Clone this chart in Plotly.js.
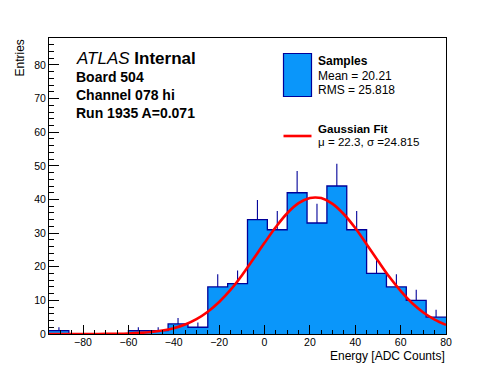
<!DOCTYPE html>
<html>
<head>
<meta charset="utf-8">
<script src="https://cdn.plot.ly/plotly-3.0.1.min.js"></script>
<style>html,body{margin:0;padding:0;background:#fff;}#chart{width:496px;height:372px;}</style>
</head>
<body>
<div id="chart"></div>
<script>
// Histogram: 20 bins from -95 to 80 (ADC counts)
const histLow = -95;
const histHigh = 80;
const counts = [1, 0, 0, 0, 1, 1, 3, 2, 14, 15, 34, 31, 42, 33, 44, 31, 18, 14, 10, 5];

// Gaussian fit curve
const fitX = [-95, -80, -70, -60, -55, -50, -45, -40, -35, -30, -25, -20, -15, -10, -5, 0, 5, 10, 15, 20, 22.3, 25, 30, 35, 40, 45, 50, 55, 60, 65, 70, 75, 80];
const fitY = [0, 0.01, 0.04, 0.17, 0.32, 0.58, 1.03, 1.74, 2.82, 4.4, 6.6, 9.5, 13.1, 17.4, 22.2, 27.1, 31.8, 35.9, 38.9, 40.4, 40.6, 40.4, 38.7, 35.6, 31.5, 26.7, 21.8, 17.0, 12.8, 9.2, 6.4, 4.3, 2.7];

// Text content
const atlasLabel = ["Board 504", "Channel 078 hi", "Run 1935 A=0.071"];
const legendSamples = ["Samples", "Mean = 20.21", "RMS = 25.818"];
const legendFit = ["Gaussian Fit", "\u03bc = 22.3, \u03c3 =24.815"];
const xTitle = "Energy [ADC Counts]";
const yTitle = "Entries";

const nBins = counts.length;
const binW = (histHigh - histLow) / nBins;
const edges = [];
for (let i = 0; i <= nBins; i++) edges.push(histLow + i * binW);
const centers = counts.map((c, i) => histLow + (i + 0.5) * binW);
const stepY = counts.concat([counts[nBins - 1]]);

const errX = [], errY = [], errUp = [], errDn = [];
counts.forEach((c, i) => {
  if (c > 0) { errX.push(centers[i]); errY.push(c); errUp.push(Math.sqrt(c)); errDn.push(0); }
});

const FILL = '#0a96fa';
const EDGE = '#000099';
const FONT = 'Liberation Sans, Arial, Helvetica, sans-serif';

const traces = [
  {
    type: 'scatter', mode: 'lines', x: edges, y: stepY,
    line: {shape: 'hv', color: EDGE, width: 1.3},
    fill: 'tozeroy', fillcolor: FILL, hoverinfo: 'skip', showlegend: false
  },
  {
    type: 'scatter', mode: 'markers', x: errX, y: errY,
    marker: {size: 1, color: 'rgba(0,0,0,0)'},
    error_y: {type: 'data', symmetric: false, array: errUp, arrayminus: errDn, width: 0, thickness: 1.1, color: EDGE},
    hoverinfo: 'skip', showlegend: false
  },
  {
    type: 'scatter', mode: 'lines', x: fitX, y: fitY,
    line: {shape: 'spline', color: '#ff0000', width: 2.6},
    hoverinfo: 'skip', showlegend: false
  }
];

// pixel helpers for decorations (plot area 49..446 x 38..334)
const L = 49, R = 446, T = 38, B = 334;
const px = v => (v - L) / (R - L);
const py = v => (B - v) / (B - T);

const annotations = [
  {text: '<i>ATLAS</i> <b>Internal</b>', x: px(75), y: py(58.5), xanchor: 'left', yanchor: 'middle', font: {size: 17}},
  {text: '<b>' + atlasLabel[0] + '</b>', x: px(75), y: py(77), xanchor: 'left', yanchor: 'middle', font: {size: 14}},
  {text: '<b>' + atlasLabel[1] + '</b>', x: px(75), y: py(95), xanchor: 'left', yanchor: 'middle', font: {size: 14}},
  {text: '<b>' + atlasLabel[2] + '</b>', x: px(75), y: py(113), xanchor: 'left', yanchor: 'middle', font: {size: 14}},
  {text: '<b>' + legendSamples[0] + '</b>', x: px(317), y: py(61), xanchor: 'left', yanchor: 'middle', font: {size: 12}},
  {text: legendSamples[1], x: px(317), y: py(76), xanchor: 'left', yanchor: 'middle', font: {size: 12}},
  {text: legendSamples[2], x: px(317), y: py(90), xanchor: 'left', yanchor: 'middle', font: {size: 12}},
  {text: '<b>' + legendFit[0] + '</b>', x: px(317), y: py(128.5), xanchor: 'left', yanchor: 'middle', font: {size: 11.6}},
  {text: legendFit[1], x: px(317), y: py(141.5), xanchor: 'left', yanchor: 'middle', font: {size: 11.6}},
  {text: xTitle, x: 1, y: py(356), xanchor: 'right', yanchor: 'middle', font: {size: 12}},
  {text: yTitle, x: px(19), y: 1, xanchor: 'center', yanchor: 'top', textangle: -90, font: {size: 12}}
].map(a => Object.assign({xref: 'paper', yref: 'paper', showarrow: false, borderpad: 0}, a));

const shapes = [
  {type: 'rect', xref: 'paper', yref: 'paper', x0: px(283.5), x1: px(311.5), y0: py(96.5), y1: py(53.5),
   fillcolor: FILL, line: {color: EDGE, width: 1.2}},
  {type: 'line', xref: 'paper', yref: 'paper', x0: px(283.5), x1: px(311.5), y0: py(136), y1: py(136),
   line: {color: '#ff0000', width: 2.6}}
];

const layout = {
  width: 496, height: 372,
  margin: {l: L, r: 496 - R, t: T, b: 372 - B, pad: 0},
  paper_bgcolor: '#ffffff', plot_bgcolor: '#ffffff',
  font: {family: FONT, color: '#000000', size: 12},
  showlegend: false,
  xaxis: {
    range: [histLow, histHigh], showgrid: false, zeroline: false,
    showline: true, linecolor: '#000', linewidth: 1, mirror: true,
    ticks: 'inside', ticklen: 9, tickcolor: '#000', tickwidth: 1,
    tick0: 0, dtick: 20, tickfont: {size: 10.5}, ticklabelstandoff: -2,
    minor: {ticks: 'inside', ticklen: 4.5, tickcolor: '#000', dtick: 5, tick0: 0, showgrid: false}
  },
  yaxis: {
    range: [0, 88], showgrid: false, zeroline: false,
    showline: true, linecolor: '#000', linewidth: 1, mirror: true,
    ticks: 'inside', ticklen: 10, tickcolor: '#000', tickwidth: 1,
    tick0: 0, dtick: 10, tickfont: {size: 10.5},
    minor: {ticks: 'inside', ticklen: 5, tickcolor: '#000', dtick: 2, tick0: 0, showgrid: false}
  },
  annotations: annotations,
  shapes: shapes
};

Plotly.newPlot('chart', traces, layout, {displayModeBar: false, staticPlot: true});
</script>
</body>
</html>
